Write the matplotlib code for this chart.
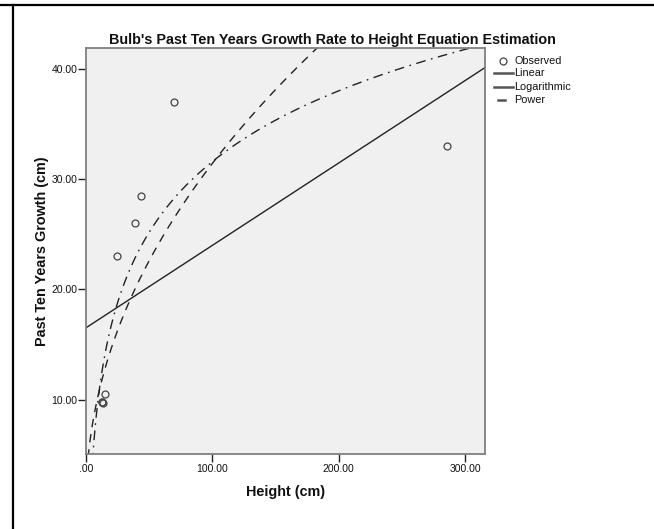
import numpy as np
import matplotlib
matplotlib.use("Agg")
import matplotlib.pyplot as plt
from matplotlib.lines import Line2D
from matplotlib.ticker import FuncFormatter

plt.rcParams['font.family'] = ['Liberation Sans', 'DejaVu Sans']

# Observed data
height = [70, 43.5, 39, 25, 286, 15, 12.5, 14, 13]
growth = [37, 28.5, 26, 23, 33, 10.5, 9.8, 9.7, 9.8]
x_ticks = [0, 100, 200, 300]
y_ticks = [10, 20, 30, 40]
legend_labels = ["Observed", "Linear", "Logarithmic", "Power"]
title = "Bulb's Past Ten Years Growth Rate to Height Equation Estimation"

W, H = 654, 529
fig = plt.figure(figsize=(W / 100, H / 100), dpi=100)

def fx(px):
    return px / W

def fy(py):
    return 1 - py / H

ax_l, ax_r, ax_t, ax_b = 85.7, 485, 48.3, 454
ax = fig.add_axes([fx(ax_l), fy(ax_b), fx(ax_r - ax_l), (ax_b - ax_t) / H])
ax.set_facecolor('#f0f0f0')
for s in ax.spines.values():
    s.set_color('#808080')
    s.set_linewidth(1.3)

x = np.array(height, dtype=float)
y = np.array(growth, dtype=float)

# Fits
lin = np.polyfit(x, y, 1)
logf = np.polyfit(np.log(x), y, 1)
powf = np.polyfit(np.log(x), np.log(y), 1)

xmax = 315.8
xs = np.linspace(0.3, xmax, 2000)
ax.plot([0, xmax], np.polyval(lin, [0, xmax]), color='#222222', lw=1.0, solid_capstyle='butt')
ax.plot(xs, logf[0] * np.log(xs) + logf[1], color='#222222', lw=1.0,
        dashes=(7, 4, 1.2, 4))
ax.plot(xs, np.exp(powf[1]) * xs ** powf[0], color='#222222', lw=1.0,
        dashes=(6, 5))
ax.plot(x, y, linestyle='none', marker='o', markersize=5, markerfacecolor='none',
        markeredgecolor='#444444', markeredgewidth=0.9)

ax.set_xlim(0, xmax)
ax.set_ylim(5.05, 41.91)
ax.set_xticks(x_ticks)
ax.set_yticks(y_ticks)

def fmt(v, pos):
    s = f"{v:.2f}"
    if s.startswith("0."):
        s = s[1:]
    return s

ax.xaxis.set_major_formatter(FuncFormatter(fmt))
ax.yaxis.set_major_formatter(FuncFormatter(fmt))
ax.tick_params(axis='both', length=5.5, width=1.0, color='#222222', labelsize=7.5,
               labelcolor='#111111')
ax.tick_params(axis='y', pad=0.5)
ax.tick_params(axis='x', pad=2)

fig.text(fx(332), fy(40), title, ha='center', va='center', fontsize=10.4,
         fontweight='bold', color='#111111')
fig.text(fx(285.5), fy(491.7), "Height (cm)", ha='center', va='center', fontsize=10.4,
         fontweight='bold', color='#111111')
fig.text(fx(41.7), fy(251), "Past Ten Years Growth (cm)", ha='center', va='center',
         fontsize=10.4, fontweight='bold', rotation=90, color='#111111')

# Legend
leg_y = [60.7, 73.3, 86.6, 99.9]
fig.add_artist(Line2D([fx(503.3)], [fy(leg_y[0])], marker='o', markersize=5,
                      markerfacecolor='none', markeredgecolor='#444444',
                      markeredgewidth=0.9, transform=fig.transFigure))
fig.add_artist(Line2D([fx(494), fx(512.7)], [fy(leg_y[1])] * 2, color='#555555', lw=1.8,
                      transform=fig.transFigure))
fig.add_artist(Line2D([fx(494), fx(512.7)], [fy(leg_y[2])] * 2, color='#555555', lw=1.8,
                      transform=fig.transFigure))
fig.add_artist(Line2D([fx(498), fx(504.5)], [fy(leg_y[3])] * 2, color='#555555', lw=1.8,
                      transform=fig.transFigure))
for lab, ly in zip(legend_labels, leg_y):
    fig.text(fx(514.3), fy(ly), lab, ha='left', va='center', fontsize=7.8, color='#111111')

# Table border lines
fig.add_artist(Line2D([0, 1], [fy(5), fy(5)], color='black', lw=1.6, transform=fig.transFigure))
fig.add_artist(Line2D([fx(12.7), fx(12.7)], [0, fy(5)], color='black', lw=1.6,
                      transform=fig.transFigure))

fig.savefig("out.png", dpi=100)
